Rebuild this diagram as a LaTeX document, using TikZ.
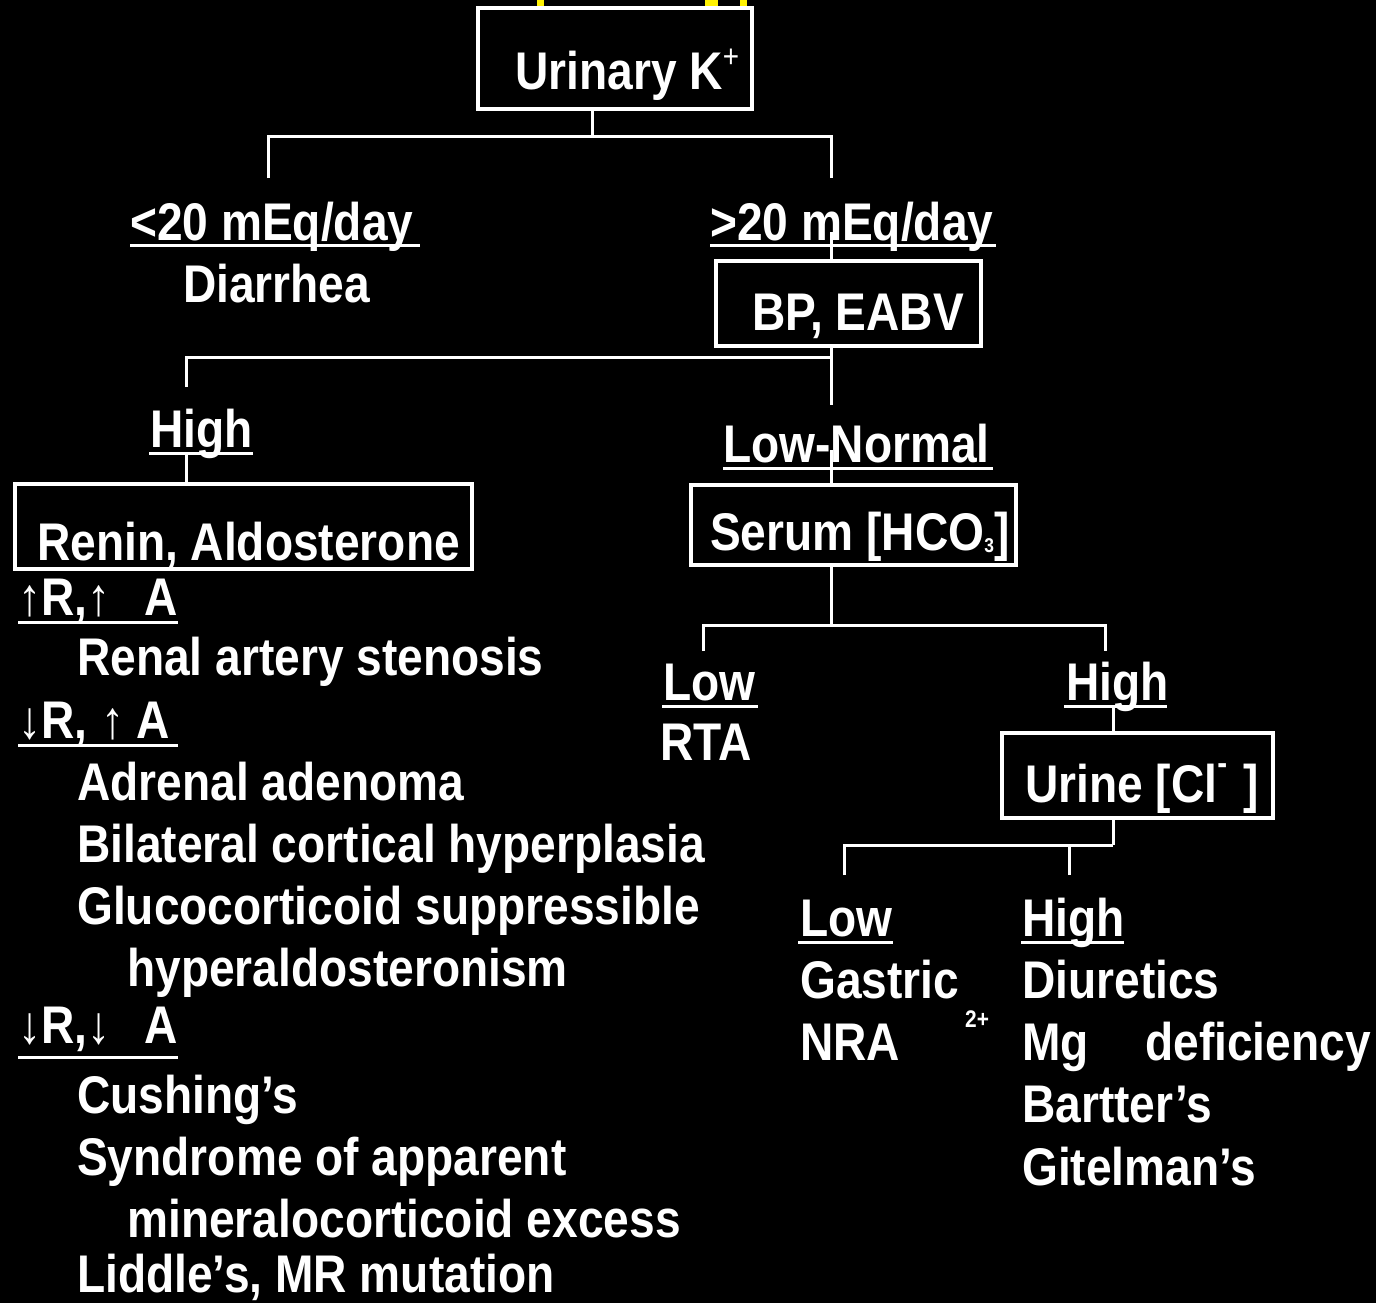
\documentclass[tikz,border=0pt]{standalone}
\usepackage{fontspec}
\setmainfont{Liberation Sans}[FakeStretch=0.87]
\newcommand\bigtxt{\fontsize{53}{60}\selectfont\bfseries}
\begin{document}
\begin{tikzpicture}[x=1pt,y=-1pt,
  box/.style={draw=white,line width=3.5pt,inner sep=0pt},
  txt/.style={text=white,anchor=base west,inner sep=0pt,font=\bigtxt},
  wire/.style={draw=white,line width=3pt},
  uline/.style={draw=white,line width=3pt},
  ymark/.style={fill=yellow,draw=none}
]
\fill[black] (0,0) rectangle (1376,1303);
\useasboundingbox (0,0) rectangle (1376,1303);

% yellow marks at top edge
\fill[ymark] (537,0) rectangle (544,7);
\fill[ymark] (705,0) rectangle (718,7);
\fill[ymark] (740,0) rectangle (747,7);

% ---------- Urinary K+ ----------
\node[box,minimum width=274pt,minimum height=101pt] (uk) at (615,58.5) {};
\node[txt] (ukt) at (515,90) {Urinary K\raisebox{22pt}{\fontsize{32}{32}\selectfont\mdseries +}};
\coordinate (j1) at (592,137);
\coordinate (lt) at (268,178);
\coordinate (gt) at (831,178);
\draw[wire] (uk.south -| j1) -- (j1);
\draw[wire] (lt) |- (j1) -| (gt);

\node[txt] (lt20) at (130,240) {<20 mEq/day};
\draw[uline] (130,245) -- (420,245);
\node[txt] (dia) at (183,302) {Diarrhea};

\node[txt] (gt20) at (710,240) {>20 mEq/day};
\draw[uline] (710,245) -- (996,245);

% ---------- BP, EABV ----------
\node[box,minimum width=265pt,minimum height=85pt] (bp) at (848.5,303.5) {};
\node[txt] (bpt) at (752,330) {BP, EABV};
\coordinate (c2) at (831,232);
\draw[wire] (c2) -- (c2 |- bp.north);
\coordinate (j2) at (831,357);
\coordinate (hi1) at (186,387);
\coordinate (ln) at (831,405);
\draw[wire] (j2 |- bp.south) -- (j2);
\draw[wire] (hi1) |- (j2) -- (ln);

% ---------- High branch ----------
\node[txt] (hi1t) at (150,447) {High};
\draw[uline] (149,453) -- (253,453);
\node[box,minimum width=457pt,minimum height=85pt] (ren) at (243.5,526.5) {};
\node[txt] (rent) at (37,560) {Renin, Aldosterone};
\coordinate (c3) at (186,453);
\draw[wire] (c3) -- (c3 |- ren.north);

\node[txt] (g1) at (18,615) {↑R,↑\hspace{34pt}A};
\draw[uline] (18,622) -- (178,622);
\node[txt] (g1a) at (77,675) {Renal artery stenosis};
\node[txt] (g2) at (18,738) {↓R,\hspace{14pt}↑\hspace{12pt}A};
\draw[uline] (18,745) -- (178,745);
\node[txt] (g2a) at (77,800) {Adrenal adenoma};
\node[txt] (g2b) at (77,862) {Bilateral cortical hyperplasia};
\node[txt] (g2c) at (77,924) {Glucocorticoid suppressible};
\node[txt] (g2d) at (127,986) {hyperaldosteronism};
\node[txt] (g3) at (18,1043) {↓R,↓\hspace{34pt}A};
\draw[uline] (18,1057) -- (178,1057);
\node[txt] (g3a) at (77,1113) {Cushing's};
\node[txt] (g3b) at (77,1175) {Syndrome of apparent};
\node[txt] (g3c) at (127,1237) {mineralocorticoid excess};
\node[txt] (g3d) at (77,1292) {Liddle's, MR mutation};

% ---------- Low-Normal branch ----------
\node[txt] (lnt) at (723,462) {Low-Normal};
\draw[uline] (723,468) -- (993,468);
\node[box,minimum width=325pt,minimum height=80pt] (ser) at (853.5,525) {};
\node[txt] (sert) at (710,550) {Serum [HCO\raisebox{-2pt}{\fontsize{20}{20}\selectfont 3}]};
\coordinate (c4) at (831,450);
\draw[wire] (c4) -- (c4 |- ser.north);

\coordinate (j3) at (831,625);
\coordinate (lo2) at (703,651);
\coordinate (hi2) at (1105,651);
\draw[wire] (ser.south -| j3) -- (j3);
\draw[wire] (lo2) |- (j3) -| (hi2);

\node[txt] (lo2t) at (663,700) {Low};
\draw[uline] (662,706) -- (758,706);
\node[txt] (rta) at (660,760) {RTA};

\node[txt] (hi2t) at (1066,700) {High};
\draw[uline] (1064,706) -- (1167,706);
\node[box,minimum width=271pt,minimum height=85pt] (uri) at (1137.5,775.5) {};
\node[txt] (urit) at (1025,802) {Urine [Cl\raisebox{28pt}{\fontsize{34}{34}\selectfont -}\hspace{16pt}]};
\coordinate (c5) at (1113,706);
\draw[wire] (c5) -- (c5 |- uri.north);

\coordinate (j4) at (1113,845);
\coordinate (lo3) at (844,875);
\coordinate (hi3) at (1069,875);
\draw[wire] (uri.south -| j4) -- (j4);
\draw[wire] (lo3) |- (j4);
\draw[wire] (hi3) -- (hi3 |- j4);

\node[txt] (lo3t) at (800,936) {Low};
\draw[uline] (798,942) -- (893,942);
\node[txt] (gas) at (800,998) {Gastric};
\node[txt] (nra) at (800,1060) {NRA};
\node[txt] (sup) at (965,1027) {\fontsize{24}{24}\selectfont 2+};

\node[txt] (hi3t) at (1022,936) {High};
\draw[uline] (1021,942) -- (1124,942);
\node[txt] (diu) at (1022,998) {Diuretics};
\node[txt] (mg) at (1022,1060) {Mg};
\node[txt] (mgd) at (1145,1060) {deficiency};
\node[txt] (bar) at (1022,1122) {Bartter's};
\node[txt] (git) at (1022,1185) {Gitelman's};
\end{tikzpicture}
\end{document}
